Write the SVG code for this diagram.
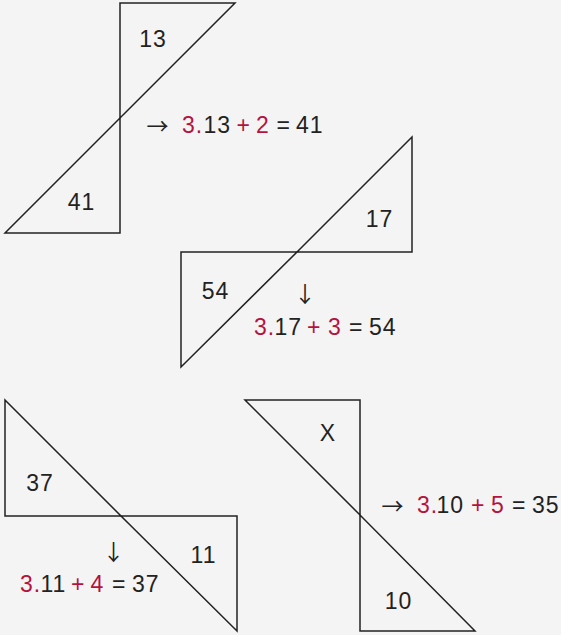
<svg xmlns="http://www.w3.org/2000/svg" width="561" height="635" viewBox="0 0 561 635">
<style>
.bg{fill:#f4f4f4}
.t{fill:none;stroke:#222;stroke-width:1.5;stroke-linejoin:miter}
text{font-family:"Liberation Sans",Arial,sans-serif;font-size:23px;fill:#222;letter-spacing:1px}
.c{text-anchor:middle}
.r{fill:#b5123e}
.a{font-family:"Noto Sans CJK SC","DejaVu Sans",sans-serif;font-size:22px;text-anchor:middle;fill:#222;letter-spacing:0}
</style>
<rect class="bg" x="0" y="0" width="561" height="635"/>
<g id="fig1">
<polygon class="t" points="120,3 235,3 120,118"/>
<polygon class="t" points="120,118 120,233 5,233"/>
<text class="c" x="153" y="47">13</text>
<text class="c" x="81.5" y="210">41</text>
<text class="a" x="157.5" y="134">→</text>
<text y="133"><tspan class="r" x="182">3.</tspan><tspan x="203.5">13</tspan><tspan class="r" x="236.4">+</tspan><tspan class="r" x="256">2</tspan><tspan x="276.6">=</tspan><tspan x="296">41</tspan></text>
</g>
<g id="fig2">
<polygon class="t" points="297,252 412,137 412,252"/>
<polygon class="t" points="181,252 297,252 181,367"/>
<text class="c" x="379.5" y="227">17</text>
<text class="c" x="215.5" y="299">54</text>
<text class="a" x="305" y="302">↓</text>
<text y="335"><tspan class="r" x="254">3.</tspan><tspan x="274.5">17</tspan><tspan class="r" x="307">+</tspan><tspan class="r" x="328">3</tspan><tspan x="349">=</tspan><tspan x="369">54</tspan></text>
</g>
<g id="fig3">
<polygon class="t" points="5,400 5,516 121,516"/>
<polygon class="t" points="121,516 237,516 237,631"/>
<text class="c" x="40" y="491">37</text>
<text class="c" x="203.5" y="563">11</text>
<text class="a" x="113.5" y="560">↓</text>
<text y="592"><tspan class="r" x="20">3.</tspan><tspan x="40.5">11</tspan><tspan class="r" x="71">+</tspan><tspan class="r" x="90.4">4</tspan><tspan x="112">=</tspan><tspan x="132">37</tspan></text>
</g>
<g id="fig4">
<polygon class="t" points="245,400 360,400 360,515"/>
<polygon class="t" points="360,515 360,631 475,631"/>
<text class="c" x="328" y="441">X</text>
<text class="c" x="398.5" y="609">10</text>
<text class="a" x="392.5" y="514">→</text>
<text y="513"><tspan class="r" x="417">3.</tspan><tspan x="436.5">10</tspan><tspan class="r" x="471">+</tspan><tspan class="r" x="491">5</tspan><tspan x="512">=</tspan><tspan x="532">35</tspan></text>
</g>
<g id="connectors"></g>
</svg>
